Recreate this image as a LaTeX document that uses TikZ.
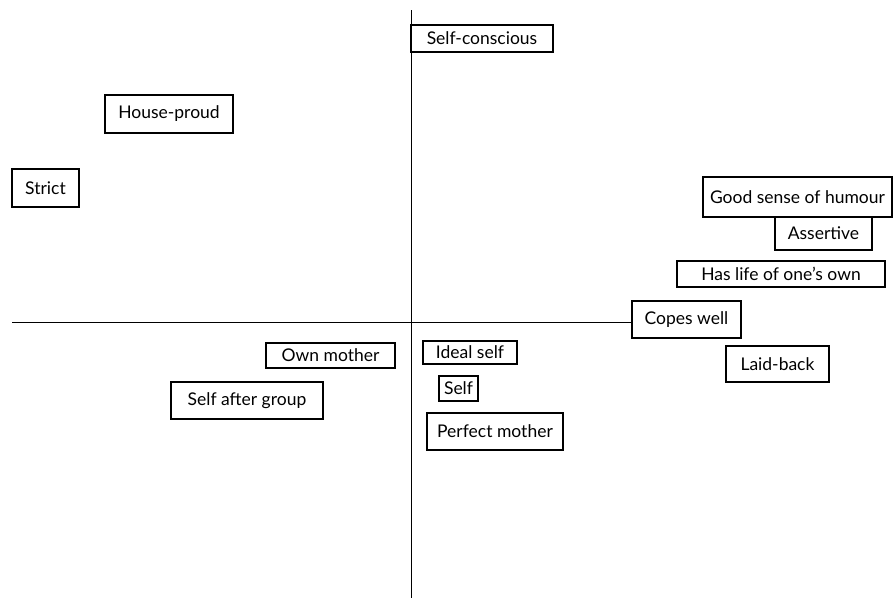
\documentclass[tikz,border=0pt]{standalone}
\usepackage{fontspec}
\setmainfont{Lato}
\begin{document}
\begin{tikzpicture}[x=1pt,y=-1pt,
  box/.style={draw, line width=1.1pt, inner sep=0pt, font=\fontsize{17.5}{20}\selectfont},
  axis/.style={line width=1.1pt}]
\useasboundingbox (0,0) rectangle (893,598);
\node[box, minimum width=142, minimum height=27] (selfc) at (482,38.5) {Self-conscious};
\node[box, minimum width=128, minimum height=38] (house) at (169,114) {House-proud};
\node[box, minimum width=67, minimum height=38] (strict) at (45.5,188) {Strict};
\node[box, minimum width=189, minimum height=40] (humour) at (797.5,197) {Good sense of humour};
\node[box, minimum width=97, minimum height=33] (assert) at (823.5,233.5) {Assertive};
\node[box, minimum width=208, minimum height=26] (life) at (781,274) {Has life of one's own};
\node[box, minimum width=109, minimum height=37] (copes) at (686.5,319.5) {Copes well};
\node[box, minimum width=103, minimum height=36] (laid) at (777.5,364) {Laid-back};
\node[box, minimum width=129, minimum height=25] (ownm) at (330.5,355.5) {Own mother};
\node[box, minimum width=152, minimum height=37] (sag) at (247,400.5) {Self after group};
\node[box, minimum width=94, minimum height=23] (ideal) at (470,352.5) {Ideal self};
\node[box, minimum width=39, minimum height=25] (self) at (458.5,388.5) {Self};
\node[box, minimum width=136, minimum height=37] (perfect) at (495,431.5) {Perfect mother};
\coordinate (vtop) at (411.5,10);
\coordinate (vbot) at (411.5,598);
\coordinate (hleft) at (12,322.7);
\draw[axis] (vtop) -- (vbot);
\draw[axis] (hleft) -- (hleft -| copes.west);
\end{tikzpicture}
\end{document}
